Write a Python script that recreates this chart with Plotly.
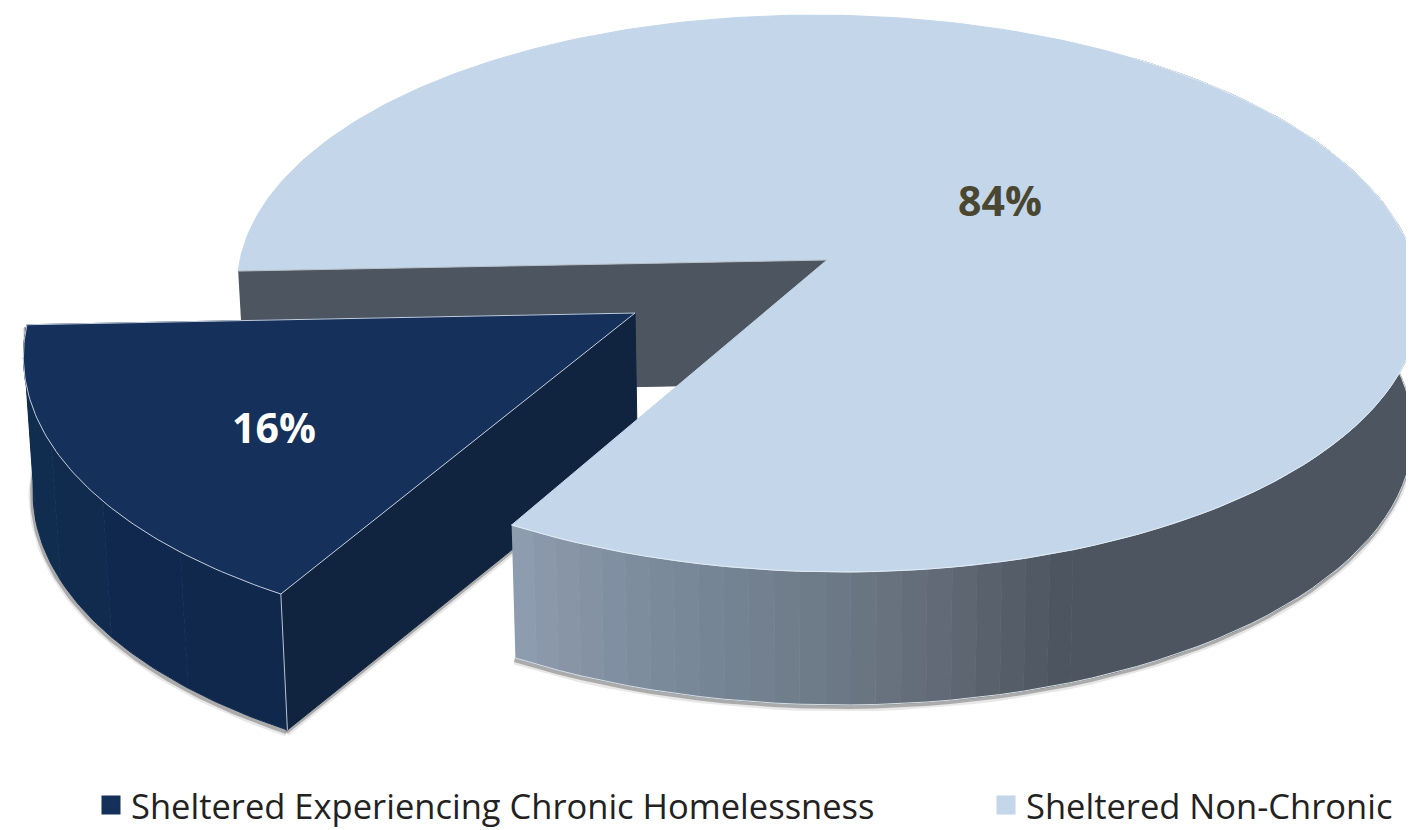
import numpy as np
import plotly.graph_objects as go

# ---- data ----
labels = ["Sheltered Experiencing Chronic Homelessness", "Sheltered Non-Chronic"]
values = [16, 84]
top_colors = ["#15305A", "#C3D6EA"]
text_colors = ["#FFFFFF", "#4A4630"]

# ---- drawing parameters (projection of the disc) ----
W, H = 1414, 830
PAGE = 8                          # the page's own margin in front of the plot
VIEW_X = 827
BOTTOM_SCALE = 0.988
K = 0.1204
START = 177.7                     # angle where the first slice begins (screen degrees)
BIG = dict(ax=827, ay=260, A=587, B=274.4, s=0.05, depth=133, wall=123)
EXP = dict(ax=635, ay=313, A=605, B=291, s=-0.055, depth=136)
LABEL_OFFSETS = [(-361, 120), (173, -54)]
BIG_X = [510, 560, 620, 700, 800, 880, 960, 1020, 1060]
BIG_C = ["#8F9FB2", "#8A96A9", "#7F8FA0", "#778797", "#6F7D8A", "#697480", "#5F6773", "#545C68", "#4D5660"]
NAVY_X = [20, 60, 100, 150, 200, 290]
NAVY_C = ["#102C50", "#112C4E", "#112A4F", "#10284E", "#10294E", "#102846"]
WALL_NAVY = "#10243F"
WALL_BIG = "#4D5660"


def pt(g, theta):
    t = np.radians(theta)
    u, v = np.cos(t), np.sin(t)
    w = 1 - K * v
    dy = g["B"] * v / w
    return g["ax"] + g["A"] * u / w + g["s"] * dy, g["ay"] + dy


def low(g, x, y, depth=None):
    return VIEW_X + (np.asarray(x) - VIEW_X) * BOTTOM_SCALE, np.asarray(y) + (depth or g["depth"])


def hex2rgb(c):
    return [int(c[i:i + 2], 16) for i in (1, 3, 5)]


def color_at(x, xs, cs):
    rgb = np.array([hex2rgb(c) for c in cs])
    return "rgb(%d,%d,%d)" % tuple(np.interp(x, xs, rgb[:, i]) for i in range(3))


fig = go.Figure()


def poly(x, y, color, line=None):
    fig.add_trace(go.Scatter(x=list(x), y=list(y), mode="lines", fill="toself", fillcolor=color,
                             line=dict(color=line or color, width=1), showlegend=False, hoverinfo="skip"))


def stroke(x, y, color, width=1):
    fig.add_trace(go.Scatter(x=list(x), y=list(y), mode="lines", line=dict(color=color, width=width),
                             showlegend=False, hoverinfo="skip"))


def shadow(x, y):
    for off, wd, col in [(3, 7, "rgba(90,90,90,0.14)"), (2, 4, "rgba(80,80,80,0.40)")]:
        stroke(np.asarray(x) - 1, np.asarray(y) + off, col, wd)


span = [v / sum(values) * 360 for v in values]
a0 = START
a1 = a0 - span[0]
a2 = a1 - span[1]

# inner wall of the large slice (seen behind the pulled-out slice)
lx, ly = pt(BIG, a2)
ax_, ay_ = BIG["ax"], BIG["ay"]
lbx, lby = low(BIG, [lx, ax_], [ly, ay_], BIG["wall"])
poly([lx, ax_, lbx[1], lbx[0]], [ly, ay_, lby[1], lby[0]], WALL_BIG)

# pulled-out slice
th = np.linspace(a0, a1, 81)
ex, ey = pt(EXP, th)
ebx, eby = low(EXP, ex, ey)
shadow([ex[0]] + list(ebx), [ey[0]] + list(eby))
tail_x, tail_y = low(EXP, [EXP["ax"]], [EXP["ay"]])
shadow([ebx[-1], tail_x[0]], [eby[-1], tail_y[0]])
poly([ex[-1], EXP["ax"], tail_x[0], ebx[-1]], [ey[-1], EXP["ay"], tail_y[0], eby[-1]], WALL_NAVY)
step = 16
for i in range(0, len(th) - 1, step):
    j = min(i + step, len(th) - 1)
    c = color_at((ex[i] + ex[j]) / 2, NAVY_X, NAVY_C)
    poly(list(ex[i:j + 1]) + list(ebx[i:j + 1][::-1]), list(ey[i:j + 1]) + list(eby[i:j + 1][::-1]), c)
poly([EXP["ax"]] + list(ex), [EXP["ay"]] + list(ey), top_colors[0])
stroke(list(ex) + [EXP["ax"]] + [ex[0]], list(ey) + [EXP["ay"]] + [ey[0]], "#C4CEDA", 1)
stroke([ex[-1], ebx[-1]], [ey[-1], eby[-1]], "#B8C4D2", 1)

# large slice: curved wall in narrow bands, then the top
th2 = np.arange(a1, a1 - 175, -2.2)
bx, by = pt(BIG, th2)
bbx, bby = low(BIG, bx, by)
shadow(bbx, bby)
flat = int(np.argmax(bx > BIG_X[-1]))
poly(list(bx[flat:]) + list(bbx[flat:][::-1]), list(by[flat:]) + list(bby[flat:][::-1]), BIG_C[-1])
for i in range(flat):
    c = color_at((bx[i] + bx[i + 1]) / 2, BIG_X, BIG_C)
    poly([bx[i], bx[i + 1], bbx[i + 1], bbx[i]], [by[i], by[i + 1], bby[i + 1], bby[i]], c)
stroke(bbx, bby, "#D8DEE4", 1)
th3 = np.linspace(a1, a2, 300)
tx, ty = pt(BIG, th3)
poly([ax_] + list(tx), [ay_] + list(ty), top_colors[1])
stroke(bx, by, "#E4ECF4", 1)
stroke([lx, ax_], [ly, ay_], "#B9C0C8", 1)

# value labels
for k, (v, off) in enumerate(zip(values, LABEL_OFFSETS)):
    g = EXP if k == 0 else BIG
    fig.add_trace(go.Scatter(x=[g["ax"] + off[0]], y=[g["ay"] + off[1]], mode="text", text=[f"{v}%"],
                             textfont=dict(family="Open Sans", size=41, color=text_colors[k], weight="bold"),
                             showlegend=False, hoverinfo="skip"))

# legend entries
for k, name in enumerate(labels):
    fig.add_trace(go.Scatter(x=[None], y=[None], mode="markers", name=name,
                             legend="legend" if k == 0 else "legend2",
                             marker=dict(symbol="square", size=16, color=top_colors[k],
                                         line=dict(color=top_colors[k], width=3))))

legend_font = dict(family="Open Sans", size=34.5, color="#222222")
common = dict(orientation="h", yanchor="bottom", y=-0.005, xanchor="left", bgcolor="rgba(0,0,0,0)",
              font=legend_font, itemwidth=30)
fig.update_layout(
    width=W - PAGE, height=H - PAGE, autosize=False,
    margin=dict(l=0, r=0, t=0, b=0, autoexpand=False),
    paper_bgcolor="white", plot_bgcolor="white",
    xaxis=dict(range=[PAGE, W], visible=False, fixedrange=True),
    yaxis=dict(range=[H, PAGE], visible=False, fixedrange=True),
    legend=dict(x=(91 - PAGE) / (W - PAGE), **common),
    legend2=dict(x=(986 - PAGE) / (W - PAGE), **common),
)
fig.write_html("out.html")
